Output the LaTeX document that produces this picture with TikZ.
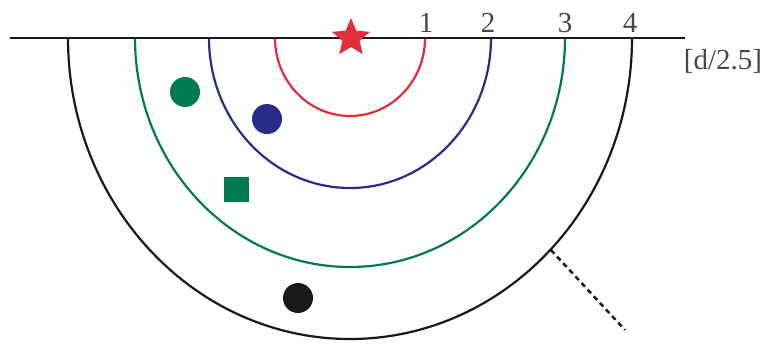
\documentclass[tikz,border=0pt]{standalone}
\usepackage{fontspec}
\setmainfont{Liberation Serif}
\usetikzlibrary{shapes.geometric}
\definecolor{cred}{RGB}{225,45,60}
\definecolor{cblue}{RGB}{40,45,140}
\definecolor{cgreen}{RGB}{0,122,82}
\definecolor{cblack}{RGB}{25,25,25}
\tikzset{
  ring/.style={line width=2.2pt},
  lbl/.style={font=\fontsize{29}{30}\selectfont, inner sep=0pt, text=cblack!80},
  dot/.style={circle, minimum size=30pt, inner sep=0pt},
}
\begin{document}
\begin{tikzpicture}[x=1pt,y=-1pt]
\useasboundingbox (0,0) rectangle (766,343);
\fill[white] (0,0) rectangle (766,343);
\coordinate (c) at (350,38);
% semicircles
\draw[ring, cblack] (c) ++(282,0) arc[start angle=0, end angle=180, x radius=282, y radius=301];
\draw[ring, cgreen] (c) ++(215,0) arc[start angle=0, end angle=180, x radius=215, y radius=229];
\draw[ring, cblue] (c) ++(141,0) arc[start angle=0, end angle=180, x radius=141, y radius=150];
\draw[ring, cred] (c) ++(75,0) arc[start angle=0, end angle=180, x radius=75, y radius=78];
% axis
\coordinate (axL) at (10,38);
\coordinate (axR) at (685,38);
\draw[line width=2.2pt, cblack] (axL) -- (axR);
% star
\node[star, star points=5, star point ratio=0.45, minimum size=18pt, inner sep=0pt, shape border rotate=180, fill=cred] (src) at (351,38) {};
% labels
\node[lbl, anchor=base] (l1) at (426,32) {1};
\node[lbl, anchor=base] (l2) at (488,32) {2};
\node[lbl, anchor=base] (l3) at (565,32) {3};
\node[lbl, anchor=base] (l4) at (630,32) {4};
\node[lbl] (unit) at (723,61) {[d/2.5]};
% markers
\node[dot, fill=cgreen] (g) at (185,92) {};
\node[dot, fill=cblue] (b) at (267,119) {};
\node[rectangle, minimum size=25pt, inner sep=0pt, fill=cgreen] (sq) at (236.5,189) {};
\node[dot, fill=cblack] (k) at (298,298) {};
% dashed line
\coordinate (ds) at (551,250);
\coordinate (de) at (625,330);
\draw[line width=2.5pt, cblack, dash pattern=on 5pt off 4pt] (ds) -- (de);
\end{tikzpicture}
\end{document}
